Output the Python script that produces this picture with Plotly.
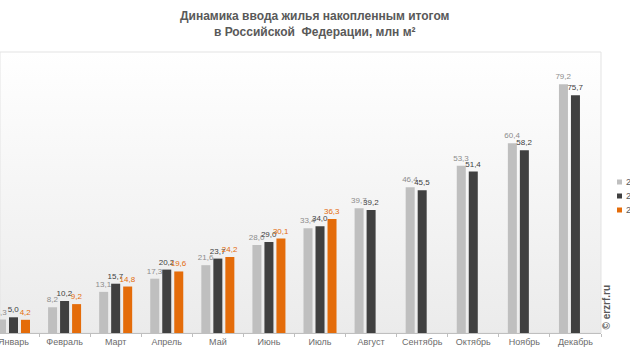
import base64
import plotly.graph_objects as go

months = ["Январь", "Февраль", "Март", "Апрель", "Май", "Июнь", "Июль",
          "Август", "Сентябрь", "Октябрь", "Ноябрь", "Декабрь"]
years = ["2022", "2023", "2024"]
v2022 = [4.3, 8.2, 13.1, 17.3, 21.6, 28.0, 33.4, 39.7, 46.4, 53.3, 60.4, 79.2]
v2023 = [5.0, 10.2, 15.7, 20.2, 23.7, 29.0, 34.0, 39.2, 45.5, 51.4, 58.2, 75.7]
v2024 = [4.2, 9.2, 14.8, 19.6, 24.2, 30.1, 36.3, None, None, None, None, None]

series = [v2022, v2023, v2024]
bar_colors = ["#bfbfbf", "#404040", "#e46c0a"]
label_colors = ["#8c8c8c", "#404040", "#e46c0a"]

FONT = "Liberation Sans, Arial, sans-serif"

# plot-area geometry in pixels (630 x 355 canvas)
PL, PR, PT, PB = 0, 601, 52, 333
PW, PH = PR - PL, PB - PT


def px_x(p):
    return (p - PL) / PW


def px_y(p):
    return (PB - p) / PH


def fmt(v):
    return "" if v is None else f"{v:.1f}".replace(".", ",")


fig = go.Figure()
for name, vals, bc, lc in zip(years, series, bar_colors, label_colors):
    fig.add_trace(go.Bar(
        x=months, y=vals, name=name,
        marker=dict(color=bc, line=dict(width=0)),
        text=[fmt(v) for v in vals],
        textposition="outside",
        constraintext="none",
        cliponaxis=True,
        textfont=dict(family=FONT, size=8, color=lc),
        showlegend=False,
        hoverinfo="skip",
    ))

svg = ('<svg xmlns="http://www.w3.org/2000/svg" width="10" height="100" '
       'preserveAspectRatio="none"><defs><linearGradient id="g" x1="0" y1="0" '
       'x2="0" y2="1"><stop offset="0" stop-color="#ffffff"/>'
       '<stop offset="1" stop-color="#ebebeb"/></linearGradient></defs>'
       '<rect width="10" height="100" fill="url(#g)"/></svg>')
src = "data:image/svg+xml;base64," + base64.b64encode(svg.encode()).decode()

shapes = [dict(type="rect", xref="paper", yref="paper", x0=0, y0=0, x1=1, y1=1,
               line=dict(color="#e3e3e3", width=1), fillcolor="rgba(0,0,0,0)",
               layer="below")]

fig.update_layout(
    width=630, height=355,
    margin=dict(l=PL, r=630 - PR, t=PT, b=355 - PB, autoexpand=False),
    paper_bgcolor="white",
    plot_bgcolor="rgba(0,0,0,0)",
    barmode="group",
    bargap=0.295,
    bargroupgap=0.25,
    xaxis=dict(
        range=[-0.264, 11.5],
        showgrid=False, zeroline=False,
        showline=True, linecolor="#bfbfbf", linewidth=1,
        ticks="outside", tickson="boundaries", ticklen=3, tickcolor="#bfbfbf",
        tickfont=dict(family=FONT, size=9, color="#6b6b6b"),
        fixedrange=True,
    ),
    yaxis=dict(
        range=[0, 89.5],
        showgrid=False, zeroline=False, showline=False,
        showticklabels=False, ticks="",
        fixedrange=True,
    ),
    images=[dict(source=src, xref="paper", yref="paper", x=0, y=1,
                 sizex=1, sizey=1, xanchor="left", yanchor="top",
                 sizing="stretch", layer="below")],
)

# title
fig.add_annotation(
    xref="paper", yref="paper", x=px_x(315), y=px_y(24.5),
    xanchor="center", yanchor="middle", showarrow=False,
    text="Динамика ввода жилья накопленным итогом<br>в Российской  Федерации, млн м²",
    font=dict(family=FONT, size=12, color="#595959", weight="bold"),
)

# legend (cut at the right edge, as in the reference)
leg_y = [182, 196, 210]
for yr, col, ly in zip(years, bar_colors, leg_y):
    shapes.append(dict(type="rect", xref="paper", yref="paper",
                       x0=px_x(617), x1=px_x(622), y0=px_y(ly + 2.5), y1=px_y(ly - 2.5),
                       fillcolor=col, line=dict(width=0)))
    fig.add_annotation(
        xref="paper", yref="paper", x=px_x(624), y=px_y(ly), xanchor="left",
        yanchor="middle", text=yr, showarrow=False,
        font=dict(family=FONT, size=9, color="#595959"),
    )

fig.add_annotation(
    xref="paper", yref="paper", x=px_x(606), y=px_y(332), xanchor="center",
    yanchor="bottom", text="© erzrf.ru", textangle=-90, showarrow=False,
    font=dict(family=FONT, size=10, color="#595959", weight="bold"),
)

fig.update_layout(shapes=shapes)
fig.write_html(
    "out.html",
    config={"displayModeBar": False, "staticPlot": True},
    post_script="document.body.style.margin='0';document.body.style.overflow='hidden';",
)
